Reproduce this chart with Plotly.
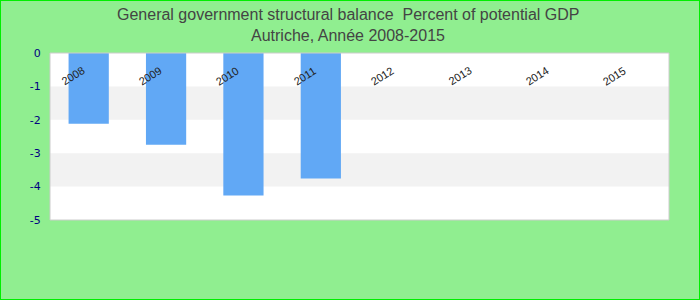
import plotly.graph_objects as go

years = ["2008", "2009", "2010", "2011", "2012", "2013", "2014", "2015"]
values = [-2.12, -2.75, -4.27, -3.76, None, None, None, None]
y_ticks = [0, -1, -2, -3, -4, -5]
y_tick_text = ["0", "-1", "-2", "-3", "-4", "-5"]
title_lines = ["General government structural balance  Percent of potential GDP",
               "Autriche, Année 2008-2015"]

fig = go.Figure()
fig.add_trace(go.Bar(x=years, y=values, marker_color="#61a8f5", marker_line_width=0))

shapes = []
for hi, lo in [(-1, -2), (-3, -4)]:
    shapes.append(dict(type="rect", xref="paper", yref="y", x0=0, x1=1, y0=hi, y1=lo,
                       fillcolor="#f2f2f2", line_width=0, layer="below"))
shapes.append(dict(type="rect", xref="paper", yref="paper", x0=0, x1=1, y0=0, y1=1,
                   line=dict(color="#cccccc", width=1), fillcolor="rgba(0,0,0,0)"))
shapes.append(dict(type="rect", xref="paper", yref="paper", x0=-50/619, x1=1 + 31/619,
                   y0=-80/167, y1=1 + 53/167,
                   line=dict(color="#00ee00", width=2), fillcolor="rgba(0,0,0,0)"))

annotations = []
for i, t in enumerate(title_lines):
    annotations.append(dict(text=t, xref="paper", yref="paper", x=0.482, y=[1.2335, 1.102][i],
                            xanchor="center", yanchor="middle", showarrow=False,
                            font=dict(family="Liberation Sans, Arial", size=16, color="#444444")))
for i, yr in enumerate(years):
    annotations.append(dict(text=yr, x=i, y=-0.69, xref="x", yref="y", showarrow=False,
                            textangle=-32, xshift=-16,
                            font=dict(family="Liberation Sans, Arial", size=11, color="#222222")))

fig.update_layout(
    width=700, height=300,
    paper_bgcolor="#90ee90", plot_bgcolor="#ffffff",
    margin=dict(l=50, r=31, t=53, b=80),
    bargap=0.48,
    showlegend=False,
    shapes=shapes,
    annotations=annotations,
    xaxis=dict(type="category", categoryorder="array", categoryarray=years, range=[-0.5, 7.5],
               showticklabels=False, showgrid=False, showline=False, ticks=""),
    yaxis=dict(range=[-5, 0], tickvals=y_ticks, ticktext=y_tick_text, showgrid=False,
               zeroline=False, ticks="outside", ticklen=6, tickcolor="rgba(0,0,0,0)",
               tickfont=dict(family="DejaVu Sans", size=11, color="#000080")),
    font=dict(family="Liberation Sans, Arial"),
)

fig.write_html("out.html")
